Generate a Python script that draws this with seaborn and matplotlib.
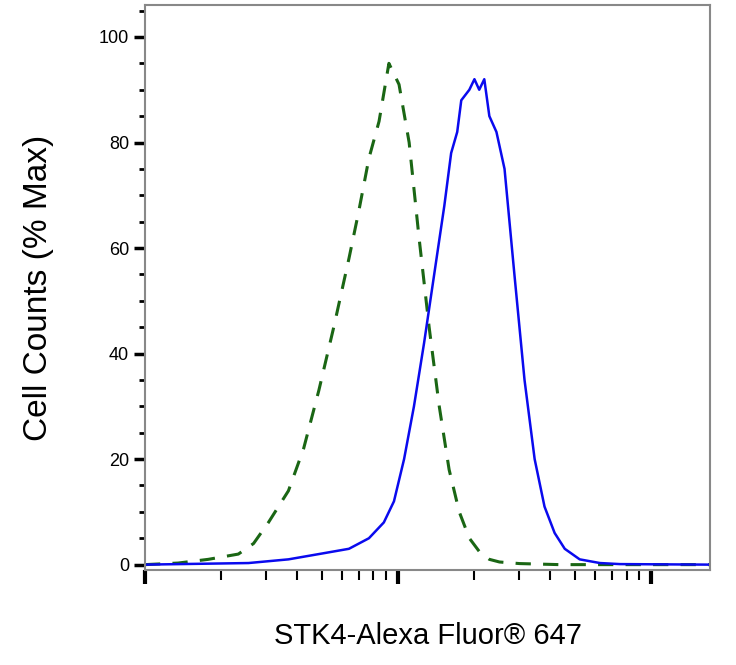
import matplotlib
matplotlib.use("Agg")
import matplotlib.pyplot as plt
import numpy as np
import seaborn as sns
from matplotlib.ticker import LogLocator, NullFormatter, MultipleLocator

# log10 of fluorescence intensity, and % of max counts
ISO_LOG_X = [1.0, 1.131, 1.25, 1.369, 1.429, 1.488, 1.567, 1.627, 1.687, 1.746, 1.806, 1.845,
             1.885, 1.925, 1.964, 2.004, 2.044, 2.083, 2.123, 2.163, 2.202, 2.242, 2.282,
             2.321, 2.361, 2.401, 2.48, 2.56, 2.639, 3.234]
ISO_Y = [0, 0.3, 1, 2, 4, 8, 14, 22, 33, 45, 58, 67, 77, 84, 95, 91, 80, 62, 45, 30, 18, 10,
         5, 2.5, 1, 0.5, 0.2, 0.1, 0, 0]

STK4_LOG_X = [1.0, 1.409, 1.567, 1.687, 1.806, 1.885, 1.944, 1.984, 2.024, 2.063, 2.103, 2.143,
              2.183, 2.21, 2.234, 2.25, 2.282, 2.302, 2.321, 2.341, 2.361, 2.389, 2.421, 2.46,
              2.5, 2.54, 2.579, 2.619, 2.659, 2.718, 2.798, 2.877, 3.234]
STK4_Y = [0, 0.3, 1, 2, 3, 5, 8, 12, 20, 30, 42, 55, 68, 78, 82, 88, 90, 92, 90, 92, 85, 82,
          75, 55, 35, 20, 11, 6, 3, 1, 0.3, 0.1, 0]

sns.set_style("ticks")
plt.rcParams["font.family"] = ["Liberation Sans", "DejaVu Sans"]

fig = plt.figure(figsize=(7.36, 6.65), dpi=100)
ax = fig.add_axes([0.197, 0.143, 0.768, 0.849])

sns.lineplot(x=10 ** np.array(ISO_LOG_X), y=ISO_Y, ax=ax, color="#1a6614",
             linestyle=(0, (5, 4)), linewidth=2.2)
sns.lineplot(x=10 ** np.array(STK4_LOG_X), y=STK4_Y, ax=ax, color="#0a0aee", linewidth=1.8)

ax.set_xscale("log")
ax.set_xlim(10, 10 ** 3.234)
ax.set_ylim(-1, 106)
ax.xaxis.set_major_locator(LogLocator(base=10, numticks=10))
ax.xaxis.set_minor_locator(LogLocator(base=10, subs=np.arange(2, 10), numticks=10))
ax.xaxis.set_major_formatter(NullFormatter())
ax.xaxis.set_minor_formatter(NullFormatter())
ax.yaxis.set_major_locator(MultipleLocator(20))
ax.yaxis.set_minor_locator(MultipleLocator(5))

for side in ["top", "right", "left", "bottom"]:
    ax.spines[side].set_color("#888888")
    ax.spines[side].set_linewidth(1.5)
ax.tick_params(axis="x", which="major", length=10, width=3, color="black", direction="out")
ax.tick_params(axis="x", which="minor", length=7, width=1.5, color="black", direction="out")
ax.tick_params(axis="y", which="major", length=8, width=2.5, color="black", labelsize=13,
               labelcolor="black")
ax.tick_params(axis="y", which="minor", length=4, width=2, color="black")

ax.set_ylabel("Cell Counts (% Max)", fontsize=24, labelpad=32, color="black")
ax.set_xlabel("STK4-Alexa Fluor® 647", fontsize=21, labelpad=24, color="black")

fig.savefig("out.png", dpi=100)
